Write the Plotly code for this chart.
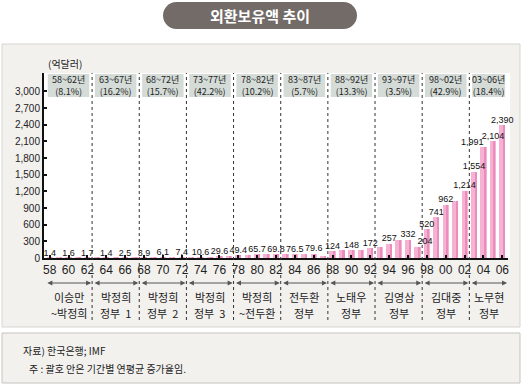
import plotly.graph_objects as go

# ---------------- data ----------------
years = list(range(1958, 2007))
reserves = [1.4, 1.5, 1.6, 2.1, 1.7, 1.3, 1.4, 1.5, 2.5, 3.6,
            3.9, 5.5, 6.1, 5.7, 7.4, 10.9, 10.6, 15.5, 29.6, 43.1,
            49.4, 57.1, 65.7, 68.9, 69.8, 69.1, 76.5, 77.5, 79.6, 36.0,
            124, 152, 148, 137, 172, 203, 257, 327, 332, 204,
            520, 741, 962, 1028, 1214, 1554, 1991, 2104, 2390]

label_years = [1958, 1960, 1962, 1964, 1966, 1968, 1970, 1972, 1974, 1976,
               1978, 1980, 1982, 1984, 1986, 1988, 1990, 1992, 1994, 1996,
               1997, 1998, 1999, 2000, 2002, 2003, 2004, 2005, 2006]
label_texts = ["1.4", "1.6", "1.7", "1.4", "2.5", "3.9", "6.1", "7.4", "10.6", "29.6",
               "49.4", "65.7", "69.8", "76.5", "79.6", "124", "148", "172", "257", "332",
               "204", "520", "741", "962", "1,214", "1,554", "1,991", "2,104", "2,390"]

period_labels = ["58~62년", "63~67년", "68~72년", "73~77년", "78~82년",
                 "83~87년", "88~92년", "93~97년", "98~02년", "03~06년"]
period_growth = ["(8.1%)", "(16.2%)", "(15.7%)", "(42.2%)", "(10.2%)",
                 "(5.7%)", "(13.3%)", "(3.5%)", "(42.9%)", "(18.4%)"]
period_start = [1957.5, 1962.5, 1967.5, 1972.5, 1977.5, 1982.5, 1987.5, 1992.5, 1997.5, 2002.5]
period_end = [1962.5, 1967.5, 1972.5, 1977.5, 1982.5, 1987.5, 1992.5, 1997.5, 2002.5, 2006.6]
gov_line1 = ["이승만", "박정희", "박정희", "박정희", "박정희",
             "전두환", "노태우", "김영삼", "김대중", "노무현"]
gov_line2 = ["~박정희", "정부  1", "정부  2", "정부  3", "~전두환",
             "정부", "정부", "정부", "정부", "정부"]

y_ticks = [0, 300, 600, 900, 1200, 1500, 1800, 2100, 2400, 2700, 3000]
x_ticks = list(range(1958, 2007, 2))
x_tick_text = [f"{y % 100:02d}" for y in x_ticks]

title_text = "외환보유액 추이"
unit_text = "(억달러)"
note1 = "자료) 한국은행; IMF"
note2 = "주 : 괄호 안은 기간별 연평균 증가율임."

# ---------------- layout constants ----------------
W, H = 522, 385
ML, MR, MT, MB = 44, 14, 73, 127
PW, PH = W - ML - MR, H - MT - MB
XR = [1957.4, 2006.6]
YR = [0, 3330]


def px_x(p):
    return (p - ML) / PW


def px_y(p):
    return (H - MB - p) / PH


FONT = "Liberation Sans, Noto Sans CJK KR, sans-serif"
KFONT = "Noto Sans CJK KR, sans-serif"
PANEL = "#f2f1ee"

fig = go.Figure()

fig.add_trace(go.Bar(x=years, y=reserves, width=0.66, offset=-0.33,
                     marker=dict(color="#f5b2d3", line=dict(width=0)),
                     hoverinfo="x+y", showlegend=False))
fig.add_trace(go.Bar(x=years, y=reserves, width=0.22, offset=0.05,
                     marker=dict(color="#ec8cbd", line=dict(width=0)),
                     hoverinfo="skip", showlegend=False))

val_lookup = dict(zip(years, reserves))
pos_override = {2004: "top left", 1997: "top right"}
text_pos = [pos_override.get(y, "top center") for y in label_years]
fig.add_trace(go.Scatter(x=label_years, y=[val_lookup[y] for y in label_years],
                         mode="text", text=label_texts, textposition=text_pos,
                         textfont=dict(size=9, color="#111", family=FONT),
                         hoverinfo="skip", showlegend=False, cliponaxis=False))

shapes = []
# gray panel
shapes.append(dict(type="rect", xref="paper", yref="paper",
                   x0=px_x(2), x1=px_x(520), y0=px_y(327), y1=px_y(44),
                   fillcolor=PANEL, line=dict(color="#d6d5d2", width=1), layer="below"))
# white plot area
shapes.append(dict(type="rect", xref="paper", yref="paper",
                   x0=0, x1=px_x(510), y0=0, y1=1,
                   fillcolor="white", line=dict(width=0), layer="below"))
# footnote box
shapes.append(dict(type="rect", xref="paper", yref="paper",
                   x0=px_x(2), x1=px_x(520), y0=px_y(383), y1=px_y(333),
                   fillcolor=PANEL, line=dict(color="#c4c3c0", width=1), layer="below"))
# title pill
hw, hh, r, k = 97, 13.5, 13.5, 7.46
pill = (f"M {-hw + r},{-hh} L {hw - r},{-hh} "
        f"C {hw - r + k},{-hh} {hw},{-k} {hw},0 "
        f"C {hw},{k} {hw - r + k},{hh} {hw - r},{hh} "
        f"L {-hw + r},{hh} "
        f"C {-hw + r - k},{hh} {-hw},{k} {-hw},0 "
        f"C {-hw},{-k} {-hw + r - k},{-hh} {-hw + r},{-hh} Z")
shapes.append(dict(type="path", xref="paper", yref="paper",
                   xsizemode="pixel", ysizemode="pixel",
                   xanchor=px_x(260), yanchor=px_y(15.5), path=pill,
                   fillcolor="#736b68", line=dict(width=0), layer="above"))
# period boxes
for i, (s, e) in enumerate(zip(period_start, period_end)):
    shapes.append(dict(type="rect", xref="x", yref="paper",
                       x0=s + 0.3, x1=e - 0.3, y0=px_y(97), y1=px_y(74),
                       fillcolor="#d5dcd8", line=dict(width=0), layer="below"))
# dotted dividers
for s in period_start[1:]:
    shapes.append(dict(type="line", xref="x", yref="paper",
                       x0=s, x1=s, y0=px_y(320), y1=1,
                       line=dict(color="#333", width=1, dash="dot"), layer="above"))

annotations = []


def ann(text, x, y, size, xref="paper", xanchor="center", color="#222", pad=1):
    return dict(text=text, xref=xref, yref="paper", x=x, y=y,
                xanchor=xanchor, yanchor="middle", showarrow=False, borderpad=pad,
                font=dict(size=size, color=color, family=KFONT))


annotations.append(ann(f"<b>{title_text}</b>", px_x(260), px_y(15.5), 15, color="white"))
annotations.append(ann(unit_text, px_x(46), px_y(63), 10, xanchor="left"))
for i, (s, e) in enumerate(zip(period_start, period_end)):
    c = (s + e) / 2
    annotations.append(ann(f"{period_labels[i]}<br>{period_growth[i]}", c, px_y(86), 9,
                           xref="x", pad=0))
    # arrows
    annotations.append(dict(text="", xref="x", yref="paper", x=e - 0.1, y=px_y(283),
                            axref="x", ayref="pixel", ax=s + 0.1, ay=0,
                            showarrow=True, arrowside="end+start", arrowhead=2,
                            startarrowhead=2, arrowsize=1, startarrowsize=1,
                            arrowwidth=1, arrowcolor="#555"))
    annotations.append(ann(gov_line1[i], c, px_y(297), 11, xref="x"))
    annotations.append(ann(gov_line2[i], c, px_y(313), 11, xref="x"))

annotations.append(ann(note1, px_x(21), px_y(350), 10, xanchor="left"))
annotations.append(ann(note2, px_x(27), px_y(368), 10, xanchor="left"))

fig.update_layout(
    width=W, height=H,
    margin=dict(l=ML, r=MR, t=MT, b=MB, pad=0),
    paper_bgcolor="white", plot_bgcolor="rgba(0,0,0,0)",
    barmode="overlay", bargap=0,
    shapes=shapes, annotations=annotations,
    font=dict(family=FONT, color="#222"),
    xaxis=dict(range=XR, tickmode="array", tickvals=x_ticks, ticktext=x_tick_text,
               ticks="inside", ticklen=3, tickwidth=2, tickcolor="#111",
               showline=True, linecolor="#111", linewidth=2, showgrid=False,
               zeroline=False, tickfont=dict(size=12, color="#222", family=FONT)),
    yaxis=dict(range=YR, tickmode="array", tickvals=y_ticks,
               ticktext=[f"{v:,}" for v in y_ticks],
               ticks="inside", ticklen=3, tickwidth=2, tickcolor="#111",
               showline=True, linecolor="#111", linewidth=2, showgrid=False,
               zeroline=False, tickfont=dict(size=10, color="#222", family=FONT)),
)

fig.write_html("out.html", config={"displayModeBar": False},
               post_script="document.body.style.margin='0';document.body.style.overflow='hidden';")
